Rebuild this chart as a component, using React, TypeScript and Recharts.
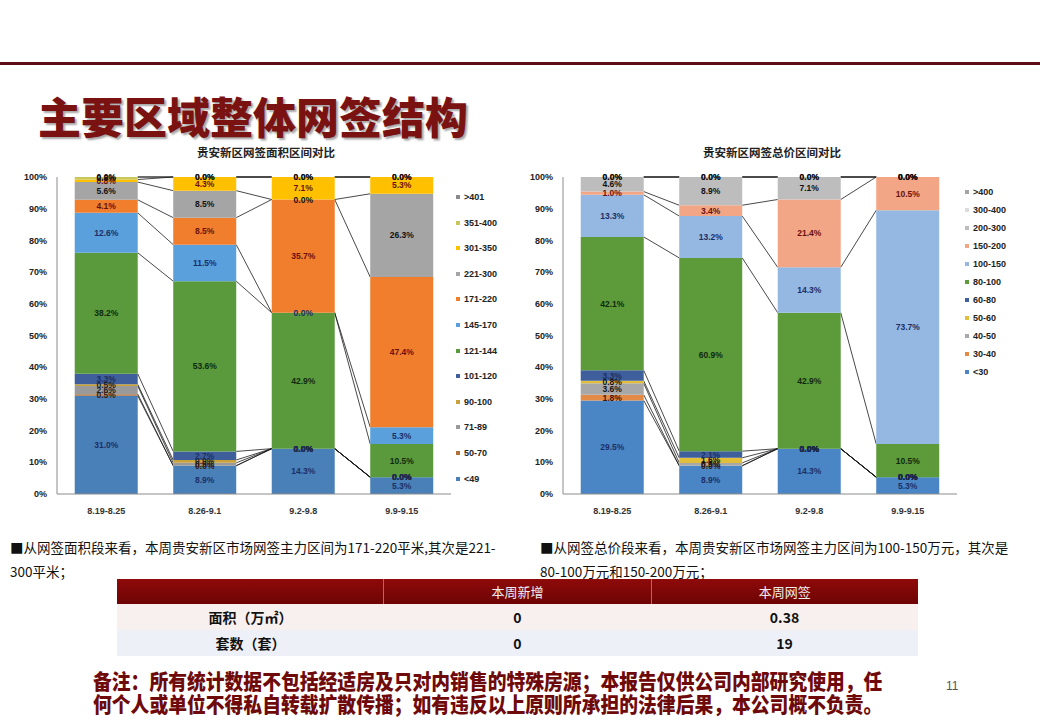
import React from 'react'
import { BarChart, Bar, XAxis, YAxis, LabelList, ReferenceDot } from 'recharts'

const weeks = ['8.19-8.25', '8.26-9.1', '9.2-9.8', '9.9-9.15']
const yTicks = [0, 0.1, 0.2, 0.3, 0.4, 0.5, 0.6, 0.7, 0.8, 0.9, 1]

// 面积区间 (bottom of stack first)
const areaRanges = ['<49', '50-70', '71-89', '90-100', '101-120', '121-144', '145-170', '171-220', '221-300', '301-350', '351-400', '>401']
const areaShares = [
  [31.0, 8.9, 14.3, 5.3],
  [0.5, 0.0, 0.0, 0.0],
  [2.6, 0.9, 0.0, 0.0],
  [0.5, 0.9, 0.0, 0.0],
  [3.3, 2.7, 0.0, 0.0],
  [38.2, 53.6, 42.9, 10.5],
  [12.6, 11.5, 0.0, 5.3],
  [4.1, 8.5, 35.7, 47.4],
  [5.6, 8.5, 0.0, 26.3],
  [0.8, 4.3, 7.1, 5.3],
  [0.8, 0.0, 0.0, 0.0],
  [0.0, 0.0, 0.0, 0.0],
]
const areaColors = ['#4a80b8', '#b0703a', '#9a9a9a', '#c9a23c', '#3e5f9c', '#5a9a3c', '#5aa0dc', '#f07e2c', '#a5a5a5', '#ffc000', '#c8c85a', '#8a8a8a']
const areaLabelColors = ['#1c2f66', '#3a1a0a', '#222', '#222', '#1c2f66', '#0f2a0f', '#1c2f66', '#6a1010', '#111', '#6a1010', '#111', '#111']

// 总价区间 (bottom of stack first)
const priceRanges = ['<30', '30-40', '40-50', '50-60', '60-80', '80-100', '100-150', '150-200', '200-300', '300-400', '>400']
const priceShares = [
  [29.5, 8.9, 14.3, 5.3],
  [1.8, 0.0, 0.0, 0.0],
  [3.6, 0.9, 0.0, 0.0],
  [0.8, 1.6, 0.0, 0.0],
  [3.3, 2.1, 0.0, 0.0],
  [42.1, 60.9, 42.9, 10.5],
  [13.3, 13.2, 14.3, 73.7],
  [1.0, 3.4, 21.4, 10.5],
  [4.6, 8.9, 7.1, 0.0],
  [0.0, 0.0, 0.0, 0.0],
  [0.0, 0.0, 0.0, 0.0],
]
const priceColors = ['#4a86c5', '#e38a46', '#a8a8a8', '#e2bf3a', '#3e5f9c', '#5c9a3a', '#95b8e2', '#f3a685', '#bdbdbd', '#dcdcdc', '#a5a5a5']
const priceLabelColors = ['#1c2f66', '#3a1a0a', '#111', '#111', '#1c2f66', '#0f2a0f', '#1c2f66', '#6a1010', '#111', '#111', '#111']

const cjk = '"Noto Sans CJK SC", sans-serif'
const narrow = '"Liberation Sans Narrow", "Liberation Sans", sans-serif'
const labelFont = { fontSize: 8.5, fontWeight: 700, fontFamily: narrow }
const pct = (v: any) => `${Number(v).toFixed(1)}%`

function cumShare(shares: number[][], k: number, i: number) {
  let total = 0
  let upTo = 0
  shares.forEach((s, j) => {
    total += s[i]
    if (j <= k) upTo += s[i]
  })
  return upTo / total
}

interface StackProps {
  ranges: string[]
  shares: number[][]
  colors: string[]
  labelColors: string[]
}

function StackChart({ ranges, shares, colors, labelColors }: StackProps) {
  const rows = weeks.map((w, i) => {
    const row: Record<string, string | number> = { week: w }
    ranges.forEach((_, k) => {
      row['s' + k] = shares[k][i]
    })
    return row
  })

  // 0.0% segments have no bar, so their labels sit at the stack boundary
  const zeros: { k: number; i: number }[] = []
  ranges.forEach((_, k) => weeks.forEach((__, i) => { if (shares[k][i] === 0) zeros.push({ k, i }) }))

  // bottom series draws the series lines (previous bar -> this bar)
  const rightEdges: Record<number, number> = {}
  const baseShape = (p: any) => {
    const { x, y, width, height, fill, index } = p
    rightEdges[index] = x + width
    const bottom = y + height
    const plotH = height / cumShare(shares, 0, index)
    const toY = (c: number) => bottom - plotH * c
    const prev = rightEdges[index - 1]
    return (
      <g>
        <rect x={x} y={y} width={width} height={height} fill={fill} />
        {index > 0 && prev !== undefined &&
          ranges.map((_, k) => (
            <line
              key={'l' + k}
              x1={prev}
              y1={toY(cumShare(shares, k, index - 1))}
              x2={x}
              y2={toY(cumShare(shares, k, index))}
              stroke="#1a1a1a"
              strokeWidth={0.8}
            />
          ))}
      </g>
    )
  }

  return (
    <BarChart
      width={520}
      height={390}
      data={rows}
      stackOffset="expand"
      barCategoryGap="18%"
      margin={{ top: 37, right: 69, left: 0, bottom: 0 }}
    >
      <XAxis
        dataKey="week"
        interval={0}
        tickLine={false}
        axisLine={{ stroke: '#8c8c8c' }}
        tickMargin={8}
        height={36}
        tick={{ fontSize: 9, fontWeight: 700, fill: '#333', fontFamily: narrow }}
      />
      <YAxis
        type="number"
        domain={[0, 1]}
        ticks={yTicks}
        tickFormatter={(v) => `${Math.round(v * 100)}%`}
        width={57}
        tickLine={false}
        tickMargin={4}
        axisLine={{ stroke: '#8c8c8c' }}
        tick={{ fontSize: 9, fontWeight: 700, fill: '#222', fontFamily: narrow }}
      />
      {ranges.map((r, k) => (
        <Bar
          key={r}
          dataKey={'s' + k}
          name={r}
          stackId="a"
          fill={colors[k]}
          isAnimationActive={false}
          shape={k === 0 ? baseShape : undefined}
        >
          <LabelList
            dataKey={'s' + k}
            position="center"
            formatter={(v: any) => (Number(v) === 0 ? '' : pct(v))}
            style={{ ...labelFont, fill: labelColors[k] }}
          />
        </Bar>
      ))}
      {zeros.map(({ k, i }) => (
        <ReferenceDot
          key={`z${k}-${i}`}
          x={weeks[i]}
          y={cumShare(shares, k, i)}
          r={0}
          fill="none"
          stroke="none"
          label={{ value: pct(0), position: 'center', fill: labelColors[k], style: labelFont }}
        />
      ))}
    </BarChart>
  )
}

function Legend({ ranges, colors, left, top, step }: { ranges: string[]; colors: string[]; left: number; top: number; step: number }) {
  const items = ranges.map((r, k) => ({ r, c: colors[k] })).reverse()
  return (
    <div style={{ position: 'absolute', left, top }}>
      {items.map((it, i) => (
        <div
          key={it.r}
          style={{ position: 'absolute', left: 0, top: i * step - 6, height: 12, display: 'flex', alignItems: 'center', whiteSpace: 'nowrap' }}
        >
          <span style={{ display: 'inline-block', width: 4, height: 4, background: it.c, marginRight: 4 }} />
          <span style={{ fontSize: 9, fontWeight: 700, color: '#222', fontFamily: narrow }}>{it.r}</span>
        </div>
      ))}
    </div>
  )
}

const cell: React.CSSProperties = { width: 267, textAlign: 'center' }

export default function App() {
  return (
    <div style={{ position: 'absolute', left: 0, top: 0, width: 1040, height: 720, background: '#fff', overflow: 'hidden', fontFamily: cjk }}>
      <div style={{ position: 'absolute', left: 0, top: 62, width: 1040, height: 3, background: '#5e0c16' }} />
      <div
        style={{
          position: 'absolute', left: 38, top: 92, fontSize: 43, lineHeight: '46px', fontWeight: 900,
          color: '#7a1212', letterSpacing: 0, textShadow: '2px 2px 2px rgba(0,0,0,0.35)', whiteSpace: 'nowrap',
        }}
      >
        主要区域整体网签结构
      </div>

      <div style={{ position: 'absolute', left: 166, top: 144, width: 200, textAlign: 'center', fontSize: 11.5, fontWeight: 700, color: '#222' }}>
        贵安新区网签面积区间对比
      </div>
      <div style={{ position: 'absolute', left: 672, top: 144, width: 200, textAlign: 'center', fontSize: 11.5, fontWeight: 700, color: '#222' }}>
        贵安新区网签总价区间对比
      </div>

      <div style={{ position: 'absolute', left: 0, top: 140 }}>
        <StackChart ranges={areaRanges} shares={areaShares} colors={areaColors} labelColors={areaLabelColors} />
      </div>
      <div style={{ position: 'absolute', left: 506, top: 140 }}>
        <StackChart ranges={priceRanges} shares={priceShares} colors={priceColors} labelColors={priceLabelColors} />
      </div>

      <Legend ranges={areaRanges} colors={areaColors} left={456} top={197} step={25.6} />
      <Legend ranges={priceRanges} colors={priceColors} left={965} top={192} step={18} />

      <div style={{ position: 'absolute', left: 10, top: 535, fontSize: 13.5, lineHeight: '24px', color: '#111', whiteSpace: 'nowrap' }}>
        <div>■从网签面积段来看，本周贵安新区市场网签主力区间为171-220平米,其次是221-</div>
        <div>300平米；</div>
      </div>
      <div style={{ position: 'absolute', left: 540, top: 535, fontSize: 13.5, lineHeight: '24px', color: '#111', whiteSpace: 'nowrap' }}>
        <div>■从网签总价段来看，本周贵安新区市场网签主力区间为100-150万元，其次是</div>
        <div>80-100万元和150-200万元；</div>
      </div>

      <div style={{ position: 'absolute', left: 117, top: 579, width: 801 }}>
        <div style={{ display: 'flex', height: 25, alignItems: 'center', background: 'linear-gradient(#8e0a0a, #6e0404)', color: '#eee', fontSize: 13 }}>
          <div style={{ ...cell, borderRight: '1px solid #c06060', height: 25 }} />
          <div style={{ ...cell, borderRight: '1px solid #c06060', lineHeight: '25px' }}>本周新增</div>
          <div style={cell}>本周网签</div>
        </div>
        <div style={{ display: 'flex', height: 26, alignItems: 'center', background: '#f8efef', fontSize: 14, fontWeight: 700, color: '#111' }}>
          <div style={cell}>面积（万㎡）</div>
          <div style={cell}>0</div>
          <div style={cell}>0.38</div>
        </div>
        <div style={{ display: 'flex', height: 26, alignItems: 'center', background: '#eef0f7', fontSize: 14, fontWeight: 700, color: '#111' }}>
          <div style={cell}>套数（套）</div>
          <div style={cell}>0</div>
          <div style={cell}>19</div>
        </div>
      </div>

      <div
        style={{
          position: 'absolute', left: 93, top: 669, fontSize: 21, lineHeight: '23px', fontWeight: 900, color: '#6e0a0a',
          whiteSpace: 'nowrap', transform: 'scaleX(0.895)', transformOrigin: 'left top',
        }}
      >
        <div>备注：所有统计数据不包括经适房及只对内销售的特殊房源；本报告仅供公司内部研究使用，任</div>
        <div>何个人或单位不得私自转载扩散传播；如有违反以上原则所承担的法律后果，本公司概不负责。</div>
      </div>
      <div style={{ position: 'absolute', left: 946, top: 679, fontSize: 12, color: '#555', fontFamily: narrow }}>11</div>
    </div>
  )
}
